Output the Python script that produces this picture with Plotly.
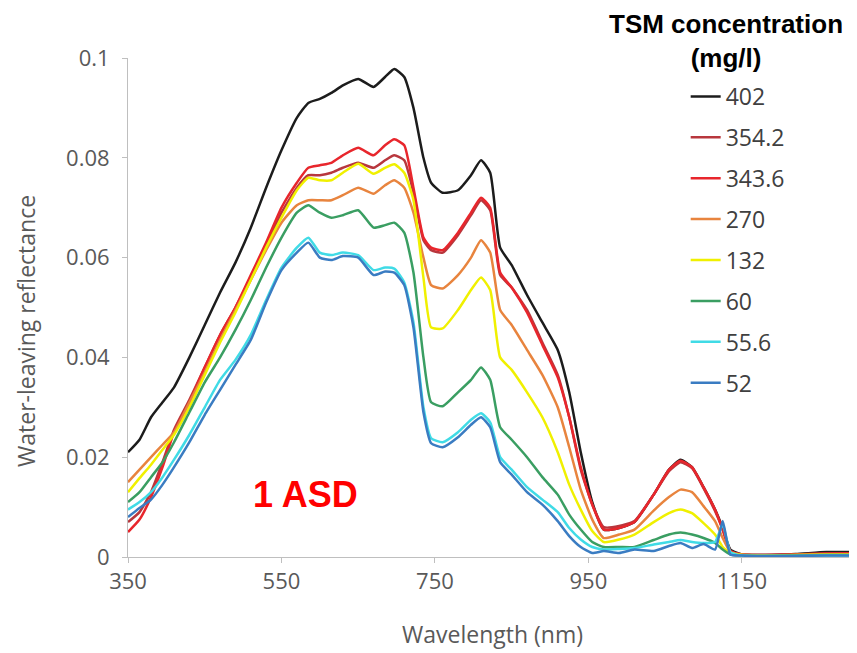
import plotly.graph_objects as go

wavelength = [350, 365, 380, 395, 410, 430, 450, 470, 490, 510,
              530, 550, 570, 585, 600, 615, 630, 650, 670, 685,
              697, 710, 722, 735, 745, 760, 780, 797, 810, 822,
              835, 850, 870, 890, 910, 925, 940, 955, 970, 990,
              1010, 1035, 1055, 1070, 1085, 1100, 1115, 1125, 1135, 1150,
              1180, 1220, 1260, 1300]

tsm_402 = [0.021, 0.0235, 0.028, 0.031, 0.034, 0.040, 0.0465, 0.053, 0.059, 0.066,
           0.074, 0.0815, 0.088, 0.091, 0.0918, 0.093, 0.0945, 0.0958, 0.0942, 0.0962,
           0.0978, 0.0962, 0.090, 0.080, 0.075, 0.073, 0.0735, 0.0765, 0.0795, 0.077,
           0.062, 0.0585, 0.0525, 0.047, 0.0415, 0.033, 0.021, 0.011, 0.0055, 0.0058,
           0.007, 0.0125, 0.0175, 0.0195, 0.018, 0.014, 0.0095, 0.0058, 0.0015, 0.0005,
           0.0004, 0.0006, 0.001, 0.001]

tsm_354_2 = [0.007, 0.009, 0.013, 0.019, 0.0255, 0.0315, 0.038, 0.0445, 0.050, 0.056,
             0.0625, 0.069, 0.074, 0.0765, 0.0765, 0.077, 0.078, 0.079, 0.078, 0.0795,
             0.0805, 0.0795, 0.073, 0.0635, 0.0615, 0.061, 0.0645, 0.0685, 0.0715, 0.0695,
             0.0565, 0.054, 0.0495, 0.043, 0.0365, 0.028, 0.0175, 0.0105, 0.006, 0.0062,
             0.0072, 0.0125, 0.0172, 0.019, 0.0178, 0.0138, 0.0092, 0.0055, 0.0012, 0.0005,
             0.0004, 0.0005, 0.0007, 0.0008]

tsm_343_6 = [0.005, 0.0075, 0.012, 0.018, 0.025, 0.031, 0.038, 0.0445, 0.050, 0.0565,
             0.063, 0.070, 0.075, 0.078, 0.0785, 0.079, 0.0805, 0.082, 0.0805, 0.0825,
             0.0837, 0.0825, 0.074, 0.064, 0.062, 0.0615, 0.065, 0.069, 0.072, 0.070,
             0.057, 0.054, 0.049, 0.0425, 0.036, 0.028, 0.018, 0.0105, 0.0055, 0.0058,
             0.007, 0.0125, 0.0175, 0.0193, 0.018, 0.014, 0.0095, 0.0055, 0.0012, 0.0005,
             0.0004, 0.0005, 0.0007, 0.0008]

tsm_270 = [0.015, 0.0175, 0.020, 0.0225, 0.025, 0.031, 0.037, 0.0435, 0.0495, 0.0555,
           0.0615, 0.067, 0.0705, 0.0715, 0.0715, 0.0715, 0.0725, 0.074, 0.0728, 0.0745,
           0.0755, 0.074, 0.069, 0.060, 0.0545, 0.0538, 0.0565, 0.060, 0.0635, 0.061,
           0.0495, 0.0465, 0.0415, 0.0365, 0.030, 0.022, 0.0135, 0.0075, 0.0038, 0.0045,
           0.0055, 0.0093, 0.012, 0.0135, 0.013, 0.0102, 0.0072, 0.0038, 0.001, 0.0005,
           0.0003, 0.0004, 0.0005, 0.0006]

tsm_132 = [0.013, 0.0158, 0.0185, 0.0215, 0.0245, 0.030, 0.0365, 0.043, 0.049, 0.0555,
           0.062, 0.068, 0.0735, 0.076, 0.0755, 0.0755, 0.077, 0.0788, 0.0768, 0.078,
           0.0787, 0.077, 0.0715, 0.056, 0.046, 0.0458, 0.0495, 0.0535, 0.056, 0.0535,
           0.040, 0.0375, 0.033, 0.028, 0.021, 0.0145, 0.0095, 0.0052, 0.003, 0.0035,
           0.0045, 0.007, 0.0088, 0.0095, 0.0088, 0.0068, 0.0045, 0.002, 0.0008, 0.0004,
           0.0003, 0.0004, 0.0005, 0.0005]

tsm_60 = [0.011, 0.013, 0.016, 0.019, 0.023, 0.029, 0.035, 0.040, 0.0455, 0.0515,
          0.058, 0.064, 0.069, 0.0705, 0.069, 0.068, 0.0685, 0.0695, 0.066, 0.0665,
          0.067, 0.065, 0.057, 0.040, 0.031, 0.0302, 0.033, 0.0355, 0.038, 0.0355,
          0.026, 0.0235, 0.020, 0.016, 0.0125, 0.0085, 0.0055, 0.003, 0.002, 0.002,
          0.002, 0.0034, 0.0045, 0.0049, 0.0045, 0.0038, 0.0028, 0.0015, 0.0005, 0.0003,
          0.0002, 0.0003, 0.0004, 0.0004]

tsm_55_6 = [0.0095, 0.011, 0.013, 0.016, 0.0195, 0.0245, 0.030, 0.0355, 0.0395, 0.0445,
            0.0515, 0.058, 0.062, 0.064, 0.061, 0.0605, 0.061, 0.0605, 0.0575, 0.058,
            0.0578, 0.055, 0.047, 0.030, 0.0238, 0.023, 0.025, 0.0275, 0.0288, 0.027,
            0.020, 0.0175, 0.014, 0.0115, 0.009, 0.0058, 0.0035, 0.002, 0.0015, 0.0016,
            0.0018, 0.0025, 0.003, 0.0034, 0.003, 0.0028, 0.003, 0.0065, 0.001, 0.0003,
            0.0002, 0.0002, 0.0003, 0.0003]

tsm_52 = [0.008, 0.0098, 0.0115, 0.0145, 0.018, 0.023, 0.0285, 0.0335, 0.0385, 0.0435,
          0.051, 0.0575, 0.061, 0.063, 0.060, 0.0595, 0.0603, 0.060, 0.0565, 0.0572,
          0.057, 0.0545, 0.046, 0.029, 0.0228, 0.022, 0.024, 0.0265, 0.028, 0.026,
          0.019, 0.0165, 0.013, 0.0105, 0.0072, 0.0042, 0.002, 0.0008, 0.0012, 0.0008,
          0.0015, 0.0012, 0.0022, 0.0028, 0.0018, 0.0026, 0.0015, 0.0072, 0.0005, 0.0003,
          0.0002, 0.0002, 0.0003, 0.0003]

series_names = ["402", "354.2", "343.6", "270", "132", "60", "55.6", "52"]
series_values = [tsm_402, tsm_354_2, tsm_343_6, tsm_270, tsm_132, tsm_60, tsm_55_6, tsm_52]
series_colors = ["#1c1c1c", "#b8373d", "#e8262c", "#e8843e", "#f0f000",
                 "#3a9e62", "#40dbe6", "#3a7cc2"]

x_ticks = [350, 550, 750, 950, 1150]
y_ticks = [0, 0.02, 0.04, 0.06, 0.08, 0.1]
y_tick_text = ["0", "0.02", "0.04", "0.06", "0.08", "0.1"]

fig = go.Figure()
for i, (name, vals, col) in enumerate(zip(series_names, series_values, series_colors)):
    fig.add_trace(go.Scatter(
        x=wavelength, y=vals, name=name, mode="lines",
        line=dict(color=col, width=2.5, shape="spline", smoothing=0.5),
        legendgroup="g%d" % i,
    ))

axis_col = "#bfbfbf"
tick_font = dict(family="Open Sans", size=22, color="#595959")
title_font = dict(family="Open Sans", size=23, color="#595959")

# page body has an 8px margin: plot area spans x 128..857, y 58..557 on screen
fig.update_layout(
    width=849, height=645,
    margin=dict(l=120, r=0, t=50, b=96),
    paper_bgcolor="white", plot_bgcolor="white",
    showlegend=True,
    legend=dict(
        x=0.765, y=0.966, xanchor="left", yanchor="top",
        bgcolor="rgba(0,0,0,0)", borderwidth=0,
        font=dict(family="Open Sans", size=23, color="#404040"),
        traceorder="grouped", tracegroupgap=8,
    ),
    xaxis=dict(
        range=[350, 1300], tickvals=x_ticks, ticktext=[str(v) for v in x_ticks],
        showline=True, linecolor=axis_col, linewidth=1,
        ticks="outside", ticklen=5, tickcolor=axis_col,
        showgrid=False, zeroline=False, tickfont=tick_font,
        title=dict(text="Wavelength (nm)", font=title_font, standoff=32),
    ),
    yaxis=dict(
        range=[0, 0.1], tickvals=y_ticks, ticktext=y_tick_text,
        showline=True, linecolor=axis_col, linewidth=1,
        ticks="outside", ticklen=5, tickcolor=axis_col,
        showgrid=False, zeroline=False, tickfont=tick_font,
        ticklabelstandoff=8,
    ),
    annotations=[
        dict(text="Water-leaving reflectance", xref="paper", yref="paper",
             x=(26 - 128) / 729, y=(557 - 331) / 499, xanchor="center", yanchor="middle",
             textangle=-90, showarrow=False, font=title_font),
        dict(text="<b>TSM concentration<br>(mg/l)</b>", xref="paper", yref="paper",
             x=0.82, y=1.102, xanchor="center", yanchor="top", showarrow=False,
             font=dict(family="Arial", size=26, color="black")),
        dict(text="<b>1 ASD</b>", xref="paper", yref="paper",
             x=(305 - 128) / 729, y=(557 - 494) / 499, xanchor="center", yanchor="middle",
             showarrow=False, font=dict(family="Arial", size=36, color="#ff0000")),
    ],
)

fig.write_html("out.html")
